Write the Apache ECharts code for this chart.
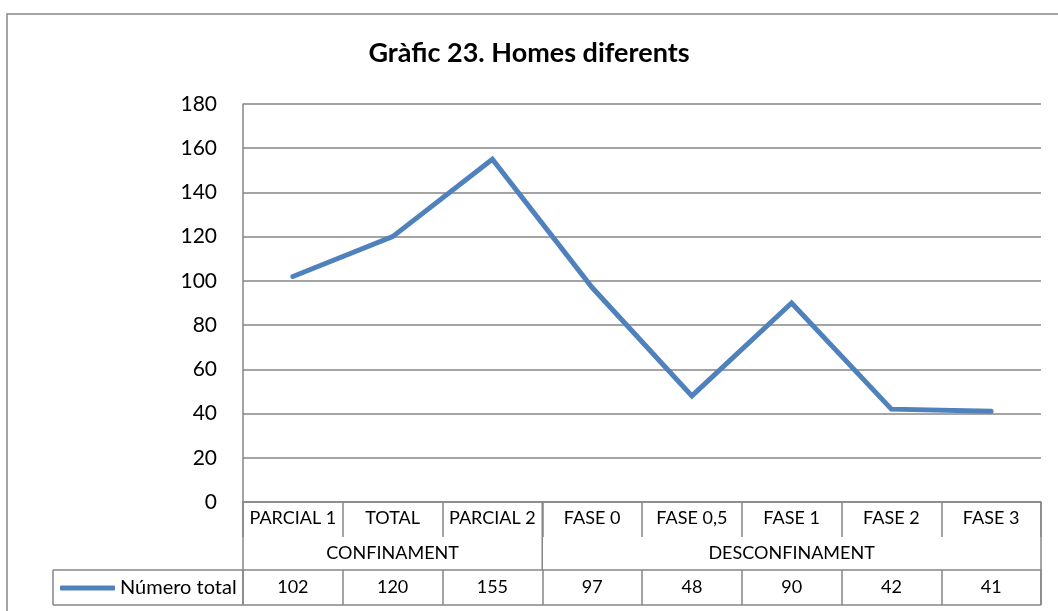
<!DOCTYPE html>
<html>
<head>
<meta charset="utf-8">
<script src="https://cdn.jsdelivr.net/npm/echarts@6/dist/echarts.min.js"></script>
<style>
  html, body { margin: 0; padding: 0; background: #fff; }
  #main { width: 1058px; height: 611px; }
</style>
</head>
<body>
<div id="main"></div>
<script>
// dades del gràfic
var categories = ['PARCIAL 1', 'TOTAL', 'PARCIAL 2', 'FASE 0', 'FASE 0,5', 'FASE 1', 'FASE 2', 'FASE 3'];
var groups = ['CONFINAMENT', 'DESCONFINAMENT'];
var groupSizes = [3, 5];
var values = [102, 120, 155, 97, 48, 90, 42, 41];
var seriesName = 'Número total';
var yMin = 0, yMax = 180, yStep = 20;

var font = 'Lato, Carlito, sans-serif';
var gray = '#868686';
var blue = '#4F81BD';
var rowH = 34; // alçada aprox. de cada fila de la taula

var chart = echarts.init(document.getElementById('main'));

var option = {
    animation: false,
    textStyle: { fontFamily: font },
    title: {
        text: 'Gràfic 23. Homes diferents',
        left: 'center',
        top: 40,
        padding: [0, 0, 0, 16],
        textStyle: { fontFamily: font, fontSize: 27, fontWeight: 'bold', color: '#000' }
    },
    legend: {
        left: 60,
        top: 578,
        padding: 0,
        icon: 'roundRect',
        itemWidth: 55,
        itemHeight: 5,
        textStyle: { fontFamily: font, fontSize: 20, color: '#000' },
        data: [seriesName]
    },
    grid: { left: 243, right: 17, top: 104, bottom: 109, containLabel: false },
    xAxis: [{
        type: 'category',
        data: categories,
        position: 'bottom',
        axisLine: { lineStyle: { color: gray, width: 1.5 } },
        axisTick: { show: true, length: 35, lineStyle: { color: gray, width: 1.5 } },
        axisLabel: { fontSize: 18, color: '#000', margin: 7, interval: 0 }
    }, {
        // fila de valors de la taula
        type: 'category',
        data: values.map(String),
        position: 'bottom',
        offset: 68,
        axisLine: { lineStyle: { color: gray, width: 1.5 } },
        axisTick: { show: true, length: 35, lineStyle: { color: gray, width: 1.5 } },
        axisLabel: { fontSize: 18, color: '#000', margin: 8, interval: 0 }
    }],
    yAxis: {
        type: 'value',
        min: yMin,
        max: yMax,
        interval: yStep,
        axisLine: { show: true, lineStyle: { color: gray, width: 1.5 } },
        axisTick: { show: false },
        axisLabel: { fontSize: 21, color: '#000', margin: 26 },
        splitLine: { lineStyle: { color: gray, width: 1.5 } }
    },
    series: [{
        name: seriesName,
        type: 'line',
        data: values,
        symbol: 'none',
        lineStyle: { color: blue, width: 5, cap: 'round', join: 'miter' },
        itemStyle: { color: blue }
    }]
};
chart.setOption(option);

// taula de sota: vores i etiquetes de grup, a partir de les escales
var c0 = chart.convertToPixel({ xAxisIndex: 0 }, 0);
var c1 = chart.convertToPixel({ xAxisIndex: 0 }, 1);
var band = c1 - c0;
var xLeft = c0 - band / 2;
var xRight = xLeft + band * categories.length;
var y0 = chart.convertToPixel({ yAxisIndex: 0 }, yMin);
var yRow3 = y0 + 68;
var yBottom = yRow3 + rowH + 1;
var legendLeft = 53;

function vline(x, ya, yb) {
    return { type: 'line', shape: { x1: x, y1: ya, x2: x, y2: yb }, style: { stroke: gray, lineWidth: 1.5 } };
}
function hline(xa, xb, y) {
    return { type: 'line', shape: { x1: xa, y1: y, x2: xb, y2: y }, style: { stroke: gray, lineWidth: 1.5 } };
}

var graphics = [
    // marc exterior
    { type: 'rect', shape: { x: 7, y: 14, width: 1100, height: 700 }, style: { fill: 'none', stroke: gray, lineWidth: 1.5 } },
    vline(xLeft, y0, yBottom),
    vline(xRight, y0, yBottom),
    hline(legendLeft, xRight, yBottom),
    hline(legendLeft, xLeft, yRow3),
    vline(legendLeft, yRow3, yBottom)
];

var start = 0;
groups.forEach(function(g, i) {
    var gx0 = xLeft + start * band;
    var gx1 = gx0 + groupSizes[i] * band;
    if (start > 0) graphics.push(vline(gx0, y0, yRow3));
    graphics.push({
        type: 'text',
        style: {
            text: g, x: (gx0 + gx1) / 2, y: y0 + 51,
            align: 'center', verticalAlign: 'middle',
            font: '18px ' + font, fill: '#000'
        }
    });
    start += groupSizes[i];
});

chart.setOption({ graphic: graphics });
</script>
</body>
</html>
